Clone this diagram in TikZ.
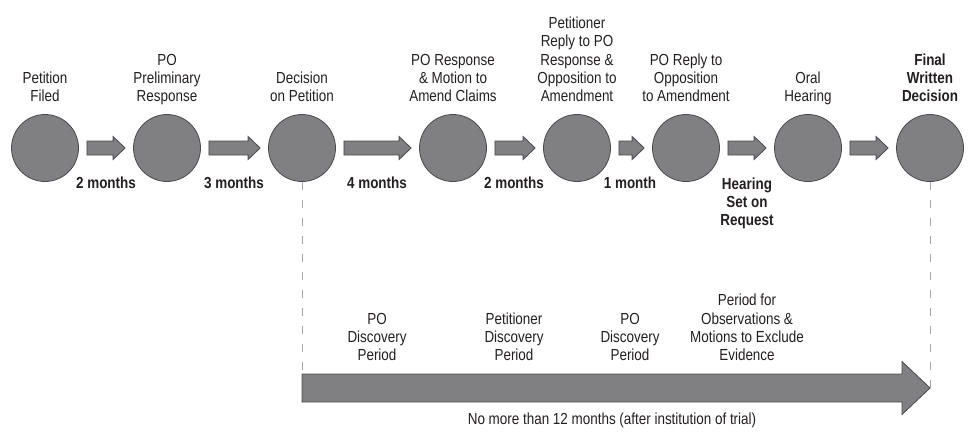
\documentclass[tikz,border=0pt]{standalone}
\usepackage{fontspec}
\setmainfont{Liberation Sans}[FakeStretch=0.84]
\usetikzlibrary{calc}
\definecolor{circfill}{HTML}{808083}
\definecolor{circedge}{HTML}{4A4A4C}
\definecolor{txt}{HTML}{231F20}
\definecolor{dashc}{HTML}{A6A6A8}
\tikzset{
  circ/.style={circle, draw=circedge, fill=circfill, line width=0.8pt, minimum size=67pt, inner sep=0pt},
  lbl/.style={align=center, font=\fontsize{16}{18.3}\selectfont, text=txt, inner sep=0pt},
  toplbl/.style={lbl, anchor=south, text depth=0pt},
  botlbl/.style={lbl, anchor=south, text depth=0pt},
  durlbl/.style={lbl, anchor=south, text depth=0pt, font=\fontsize{16}{18.3}\selectfont\bfseries},
  blk/.style={draw=circedge, fill=circfill, line width=0.8pt, line join=miter},
  dsh/.style={draw=dashc, line width=1pt, dash pattern=on 8pt off 10pt},
}
\newcommand{\blockarrow}[2]{%
  \draw[blk] let \p1=($(#1.east)+(8,0)$), \p2=($(#2.west)+(-8,0)$) in
    (\x1,\y1+7pt) -- (\x2-12pt,\y1+7pt) -- (\x2-12pt,\y1+11.5pt) -- (\x2,\y1)
    -- (\x2-12pt,\y1-11.5pt) -- (\x2-12pt,\y1-7pt) -- (\x1,\y1-7pt) -- cycle;}
\begin{document}
\begin{tikzpicture}[x=1pt,y=-1pt]
\useasboundingbox (0,0) rectangle (968,431);
% circles
\node[circ] (c1) at (45,148) {};
\node[circ] (c2) at (167,148) {};
\node[circ] (c3) at (302,148) {};
\node[circ] (c4) at (453,148) {};
\node[circ] (c5) at (577,148) {};
\node[circ] (c6) at (686,148) {};
\node[circ] (c7) at (808,148) {};
\node[circ] (c8) at (930,148) {};
% top labels
\node[toplbl] (t1) at (45,102) {Petition\\Filed};
\node[toplbl] (t2) at (167,102) {PO\\Preliminary\\Response};
\node[toplbl] (t3) at (302,102) {Decision\\on Petition};
\node[toplbl] (t4) at (453,102) {PO Response\\\& Motion to\\Amend Claims};
\node[toplbl] (t5) at (577,102) {Petitioner\\Reply to PO\\Response \&\\Opposition to\\Amendment};
\node[toplbl] (t6) at (686,102) {PO Reply to\\Opposition\\to Amendment};
\node[toplbl] (t7) at (808,102) {Oral\\Hearing};
\node[toplbl, font=\fontsize{16}{18.3}\selectfont\bfseries] (t8) at (930,102) {Final\\Written\\Decision};
% small arrows
\blockarrow{c1}{c2}
\blockarrow{c2}{c3}
\blockarrow{c3}{c4}
\blockarrow{c4}{c5}
\blockarrow{c5}{c6}
\blockarrow{c6}{c7}
\blockarrow{c7}{c8}
% duration labels
\node[durlbl] (d1) at (106,189) {2 months};
\node[durlbl] (d2) at (234,189) {3 months};
\node[durlbl] (d3) at (377,189) {4 months};
\node[durlbl] (d4) at (514,189) {2 months};
\node[durlbl] (d5) at (630,189) {1 month};
\node[durlbl] (d6) at (747,226) {Hearing\\Set on\\Request};
% dashed lines
\draw[dsh] (c3.south) -- ++(0,193);
\draw[dsh] (c8.south) -- ++(0,206.5);
% big arrow
\draw[blk] let \p1=(c3.center), \p2=(c8.center), \p3=(0,388) in
  (\x1,\y3+14pt) -- (\x2-28pt,\y3+14pt) -- (\x2-28pt,\y3+26.5pt) -- (\x2,\y3)
  -- (\x2-28pt,\y3-26.5pt) -- (\x2-28pt,\y3-14pt) -- (\x1,\y3-14pt) -- cycle;
% period labels
\node[botlbl] (p1) at (377,361) {PO\\Discovery\\Period};
\node[botlbl] (p2) at (514,361) {Petitioner\\Discovery\\Period};
\node[botlbl] (p3) at (630,361) {PO\\Discovery\\Period};
\node[botlbl] (p4) at (747,361) {Period for\\Observations \&\\Motions to Exclude\\Evidence};
\node[lbl, anchor=base] (bt) at (612,424) {No more than 12 months (after institution of trial)};
\end{tikzpicture}
\end{document}
